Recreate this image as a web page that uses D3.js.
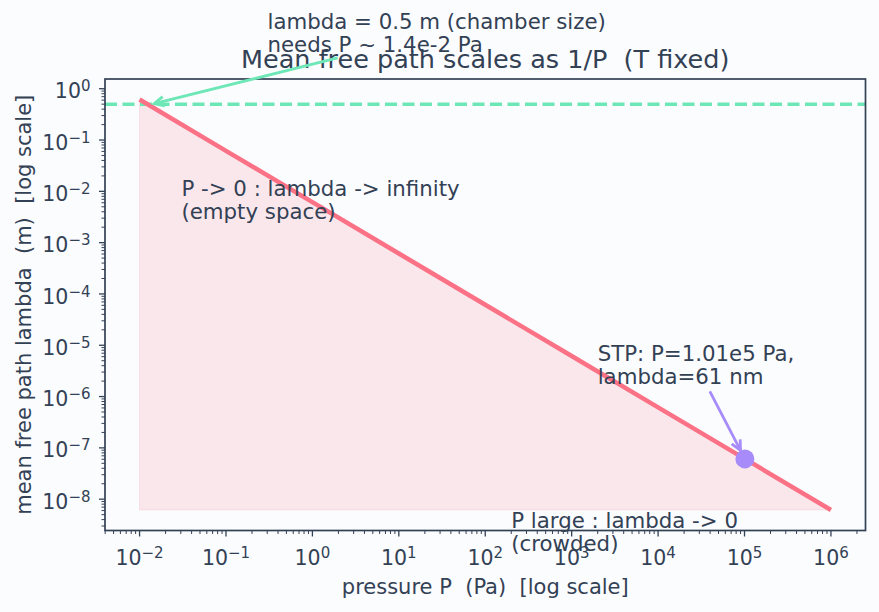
<!DOCTYPE html>
<html><head><meta charset="utf-8">
<script src="https://cdn.jsdelivr.net/npm/d3@7"></script>
<style>
html,body{margin:0;padding:0;background:#fbfcfe;}
text{font-family:"DejaVu Sans",sans-serif;fill:#334155;white-space:pre;}
</style></head><body>
<svg id="c" width="879" height="612"></svg>
<script>
// ---- data ----
const pressure = [1e-2, 1e-1, 1e0, 1e1, 1e2, 1e3, 1e4, 1e5, 1e6];
const lambdaVals = [6.16e-1, 6.16e-2, 6.16e-3, 6.16e-4, 6.16e-5, 6.16e-6, 6.16e-7, 6.16e-8, 6.16e-9];
const stpPoint = {P: 1.01e5, lambda: 6.1e-8};
const chamber = {P: 1.4e-2, lambda: 0.5};
const xTickExps = [-2, -1, 0, 1, 2, 3, 4, 5, 6];
const yTickExps = [0, -1, -2, -3, -4, -5, -6, -7, -8];
const titleText = "Mean free path scales as 1/P  (T fixed)";
const xLabelText = "pressure P  (Pa)  [log scale]";
const yLabelText = "mean free path lambda  (m)  [log scale]";
const noteChamber = ["lambda = 0.5 m (chamber size)", "needs P ~ 1.4e-2 Pa"];
const noteLow = ["P -> 0 : lambda -> infinity", "(empty space)"];
const noteHigh = ["P large : lambda -> 0", "(crowded)"];
const noteSTP = ["STP: P=1.01e5 Pa,", "lambda=61 nm"];
// text anchors in data coordinates (left, first baseline)
const anchorChamber = [0.302, 14.5];
const anchorLow = [0.0305, 8.1e-3];
const anchorHigh = [2.0e2, 2.75e-9];
const anchorSTP = [2.0e3, 5.0e-6];

// ---- style ----
const C = {line:"#fb7185", teal:"#6ee7b7", violet:"#a78bfa", ink:"#334155"};
const W = 879, H = 612;
const plot = {left:105, right:865.5, top:79, bottom:530.5};

const svg = d3.select("#c");
svg.append("rect").attr("width",W).attr("height",H).attr("fill","#fbfcfe");

const lx = d3.extent(pressure).map(Math.log10);
const ly = d3.extent(lambdaVals).map(Math.log10);
const mx = (lx[1]-lx[0])*0.05, my = (ly[1]-ly[0])*0.05;
const x = d3.scaleLog().domain([10**(lx[0]-mx), 10**(lx[1]+mx)]).range([plot.left, plot.right]);
const y = d3.scaleLog().domain([10**(ly[0]-my), 10**(ly[1]+my)]).range([plot.bottom, plot.top]);

svg.append("clipPath").attr("id","clipA").append("rect")
  .attr("x",plot.left).attr("y",plot.top).attr("width",plot.right-plot.left).attr("height",plot.bottom-plot.top);

const data = pressure.map((p,i)=>({p, l:lambdaVals[i]}));
const lmin = d3.min(lambdaVals);
const g = svg.append("g").attr("clip-path","url(#clipA)");

// fill
g.append("path").datum(data)
  .attr("d", d3.area().x(d=>x(d.p)).y0(y(lmin)).y1(d=>y(d.l)))
  .attr("fill", C.line).attr("fill-opacity",0.15)
  .attr("stroke", C.line).attr("stroke-opacity",0.15).attr("stroke-width",1);

// hline
g.append("line").attr("x1",plot.left).attr("x2",plot.right)
  .attr("y1",y(chamber.lambda)).attr("y2",y(chamber.lambda))
  .attr("stroke",C.teal).attr("stroke-width",3.5).attr("stroke-dasharray","12,5.5");

// line
g.append("path").datum(data)
  .attr("d", d3.line().x(d=>x(d.p)).y(d=>y(d.l)))
  .attr("fill","none").attr("stroke",C.line).attr("stroke-width",4.5).attr("stroke-linecap","butt");

// STP point
const ptR = 9.5;
g.append("circle").attr("cx",x(stpPoint.P)).attr("cy",y(stpPoint.lambda)).attr("r",ptR).attr("fill",C.violet);

// spines
svg.append("rect").attr("x",plot.left).attr("y",plot.top)
  .attr("width",plot.right-plot.left).attr("height",plot.bottom-plot.top)
  .attr("fill","none").attr("stroke",C.ink).attr("stroke-width",1.7);

// ticks
function minorTicks(scale){
  const [a,b] = scale.domain().map(Math.log10);
  const out = [];
  for(let e=Math.floor(a); e<=Math.ceil(b); e++){
    for(let m=2;m<=9;m++){ const v=m*10**e; const lv=Math.log10(v); if(lv>=a&&lv<=b) out.push(v); }
  }
  return out;
}
const ax = svg.append("g");
minorTicks(x).forEach(v=>{
  ax.append("line").attr("x1",x(v)).attr("x2",x(v)).attr("y1",plot.bottom).attr("y2",plot.bottom+3.5)
    .attr("stroke",C.ink).attr("stroke-width",1);
});
minorTicks(y).forEach(v=>{
  ax.append("line").attr("y1",y(v)).attr("y2",y(v)).attr("x1",plot.left).attr("x2",plot.left-3.5)
    .attr("stroke",C.ink).attr("stroke-width",1);
});
const tickFs = 20.5, supFs = 15;
function supLabel(sel, e){
  sel.append("tspan").text("10");
  sel.append("tspan").attr("font-size",supFs).attr("dy",-7).text(String(e).replace("-","\u2212"));
}
xTickExps.forEach(e=>{
  const v = 10**e;
  ax.append("line").attr("x1",x(v)).attr("x2",x(v)).attr("y1",plot.bottom).attr("y2",plot.bottom+6)
    .attr("stroke",C.ink).attr("stroke-width",1.3);
  const t = ax.append("text").attr("x",x(v)).attr("y",plot.bottom+34.5).attr("font-size",tickFs).attr("text-anchor","middle");
  supLabel(t,e);
});
yTickExps.forEach(e=>{
  const v = 10**e;
  ax.append("line").attr("y1",y(v)).attr("y2",y(v)).attr("x1",plot.left).attr("x2",plot.left-6)
    .attr("stroke",C.ink).attr("stroke-width",1.3);
  const t = ax.append("text").attr("x",plot.left-14.5).attr("y",y(v)+9.6).attr("font-size",tickFs).attr("text-anchor","end");
  supLabel(t,e);
});

// labels
svg.append("text").attr("x",(plot.left+plot.right)/2).attr("y",68.3).attr("font-size",25.5)
  .attr("text-anchor","middle").text(titleText);
svg.append("text").attr("x",(plot.left+plot.right)/2).attr("y",594).attr("font-size",21)
  .attr("text-anchor","middle").text(xLabelText);
svg.append("text").attr("transform",`translate(31,${(plot.top+plot.bottom)/2}) rotate(-90)`).attr("font-size",21)
  .attr("text-anchor","middle").text(yLabelText);

// annotations
const ann = svg.append("g");
function note(lines, anchor){
  const t = ann.append("text").attr("font-size",21.3);
  lines.forEach((s,i)=>{
    t.append("tspan").attr("x",x(anchor[0])).attr("y", y(anchor[1]) + i*23).text(s);
  });
  return t;
}
function arrow(textSel, tx, ty, shrinkEnd, color){
  const bb = textSel.node().getBBox();
  const cx = bb.x+bb.width/2, cy = bb.y+bb.height/2;
  const dx = tx-cx, dy = ty-cy, len = Math.hypot(dx,dy);
  const ux = dx/len, uy = dy/len;
  const tExit = Math.min(bb.width/2/Math.abs(ux||1e-9), bb.height/2/Math.abs(uy||1e-9));
  const sx = cx+ux*(tExit+3), sy = cy+uy*(tExit+3);
  const ex = tx-ux*shrinkEnd, ey = ty-uy*shrinkEnd;
  ann.append("line").attr("x1",sx).attr("y1",sy).attr("x2",ex).attr("y2",ey)
    .attr("stroke",color).attr("stroke-width",2.8);
  const hl = 10, hw = 4.8;
  const px = -uy, py = ux;
  ann.append("path")
    .attr("d",`M${ex-ux*hl+px*hw},${ey-uy*hl+py*hw} L${ex},${ey} L${ex-ux*hl-px*hw},${ey-uy*hl-py*hw}`)
    .attr("fill","none").attr("stroke",color).attr("stroke-width",2.8).attr("stroke-linejoin","miter");
}
const tCh = note(noteChamber, anchorChamber);
arrow(tCh, x(chamber.P), y(chamber.lambda), 2, C.teal);
note(noteLow, anchorLow);
note(noteHigh, anchorHigh);
const tStp = note(noteSTP, anchorSTP);
arrow(tStp, x(stpPoint.P), y(stpPoint.lambda), ptR, C.violet);
</script>
</body></html>
